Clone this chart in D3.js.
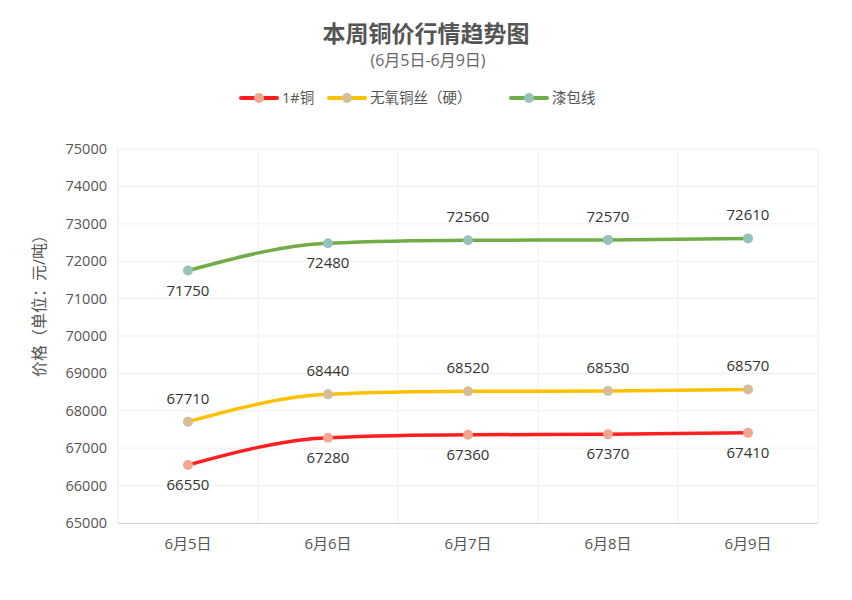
<!DOCTYPE html>
<html><head><meta charset="utf-8">
<script src="https://cdn.jsdelivr.net/npm/d3@7"></script>
<style>body{margin:0;background:#fff;}svg{display:block;font-family:"Open Sans","Noto Sans CJK SC",sans-serif;}</style>
</head><body><svg id="c" width="852" height="600"></svg>
<script>
const categories = ["6月5日","6月6日","6月7日","6月8日","6月9日"];
const seriesNames = ["1#铜","无氧铜丝（硬）","漆包线"];
const copper = [66550,67280,67360,67370,67410];
const wire = [67710,68440,68520,68530,68570];
const enamel = [71750,72480,72560,72570,72610];
const yTicks = [65000,66000,67000,68000,69000,70000,71000,72000,73000,74000,75000];
const lineColors = ["#ff1f1f","#ffc000","#70ad47"];
const markerColors = ["#f4a790","#d5bd9a","#95c3b9"];
const labelPos = [["below","below","below","below","below"],["above","above","above","above","above"],["below","below","above","above","above"]];

const svg = d3.select("#c");
const x = d3.scaleBand().domain(categories).range([118,818]);
const y = d3.scaleLinear().domain([65000,75000]).range([523,149]);

svg.append("text").attr("x",426).attr("y",42).attr("text-anchor","middle").attr("font-size",23).attr("font-weight","bold").attr("fill","#555").text("本周铜价行情趋势图");
svg.append("text").attr("x",428).attr("y",66).attr("text-anchor","middle").attr("font-size",16).attr("fill","#666").text("(6月5日-6月9日)");

const g = svg.append("g");
g.selectAll("line.h").data(yTicks.slice(1)).join("line").attr("x1",118).attr("x2",818).attr("y1",d=>y(d)).attr("y2",d=>y(d)).attr("stroke","#efefef");
const bounds = categories.map(c=>x(c)+x.bandwidth());
g.selectAll("line.v").data(bounds).join("line").attr("x1",d=>d).attr("x2",d=>d).attr("y1",149).attr("y2",523).attr("stroke","#efefef");
g.append("line").attr("x1",118).attr("x2",118).attr("y1",149).attr("y2",523).attr("stroke","#e4e4e4");
g.append("line").attr("x1",118).attr("x2",818).attr("y1",523.5).attr("y2",523.5).attr("stroke","#d0d0d0");

svg.selectAll("text.yt").data(yTicks).join("text").attr("x",107).attr("y",d=>y(d)+5).attr("text-anchor","end").attr("font-size",14.5).attr("fill","#555").text(d=>d);
svg.selectAll("text.xt").data(categories).join("text").attr("x",d=>x(d)+x.bandwidth()/2).attr("y",549).attr("text-anchor","middle").attr("font-size",15).attr("fill","#555").text(d=>d);
svg.append("text").attr("transform","translate(45,302) rotate(-90)").attr("text-anchor","middle").attr("font-size",16).attr("fill","#555").text("价格（单位：元/吨）");

const all = [copper,wire,enamel];
const cx = d=>x(d)+x.bandwidth()/2;
const line = d3.line().x((d,i)=>cx(categories[i])).y(d=>y(d)).curve(d3.curveMonotoneX);
all.forEach((s,k)=>{
  svg.append("path").attr("d",line(s)).attr("fill","none").attr("stroke",lineColors[k]).attr("stroke-width",3.5).attr("stroke-linecap","round");
  svg.selectAll(null).data(s).join("circle").attr("cx",(d,i)=>cx(categories[i])).attr("cy",d=>y(d)).attr("r",5).attr("fill",markerColors[k]);
  svg.selectAll(null).data(s).join("text").attr("x",(d,i)=>cx(categories[i])).attr("y",(d,i)=>labelPos[k][i]==="above"? y(d)-18 : y(d)+25).attr("text-anchor","middle").attr("font-size",15).attr("fill","#333").text(d=>d);
});

const legX = [241,329,511];
seriesNames.forEach((n,k)=>{
  const lg = svg.append("g").attr("transform",`translate(${legX[k]},98)`);
  lg.append("line").attr("x1",0).attr("x2",36).attr("y1",0).attr("y2",0).attr("stroke",lineColors[k]).attr("stroke-width",4).attr("stroke-linecap","round");
  lg.append("circle").attr("cx",18).attr("cy",0).attr("r",5).attr("fill",markerColors[k]);
  lg.append("text").attr("x",41).attr("y",5).attr("font-size",14.5).attr("fill","#555").text(n);
});
</script></body></html>
